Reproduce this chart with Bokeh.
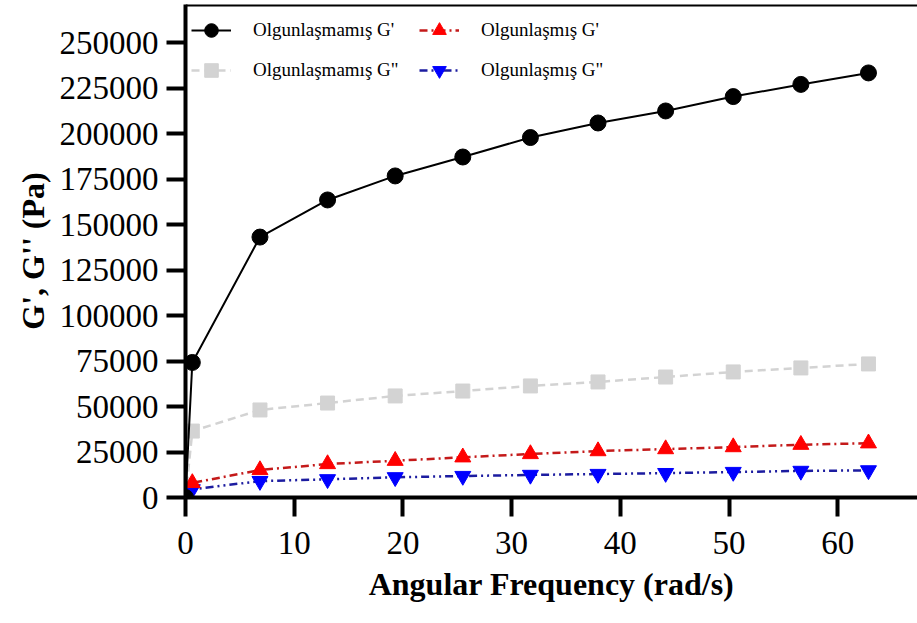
from bokeh.plotting import figure
from bokeh.models import (Range1d, FixedTicker, BasicTickFormatter, Legend, LegendItem, Span)
from bokeh.embed import file_html
from bokeh.resources import INLINE

# Angular frequency (rad/s)
freq = [0, 0.628, 6.85, 13.07, 19.29, 25.51, 31.73, 37.95, 44.17, 50.39, 56.61, 62.83]

# Storage (G') and loss (G'') moduli, Pa
immature_g1 = [0, 74200, 143100, 163500, 176700, 187100, 197800, 205800, 212400, 220300, 227000, 233300]
immature_g2 = [0, 36500, 48100, 51900, 55800, 58500, 61300, 63500, 66200, 69000, 71200, 73400]
mature_g1 = [0, 8000, 15100, 18400, 20200, 22100, 23900, 25500, 26600, 27700, 29000, 29800]
mature_g2 = [0, 4500, 9000, 10000, 11100, 11800, 12400, 12900, 13400, 14000, 14600, 14900]

labels = ["Olgunlaşmamış G'", "Olgunlaşmış G'", 'Olgunlaşmamış G"', 'Olgunlaşmış G"']

x_ticks = [0, 10, 20, 30, 40, 50, 60]
y_ticks = [0, 25000, 50000, 75000, 100000, 125000, 150000, 175000, 200000, 225000, 250000]

FONT = "Liberation Serif"
X_END = 67.34
Y_END = 270900

p = figure(width=917, height=623, output_backend="svg", toolbar_location=None,
           x_range=Range1d(0, X_END), y_range=Range1d(0, Y_END),
           min_border_left=185, min_border_right=0, min_border_top=4, min_border_bottom=126)
p.outline_line_color = None
p.xgrid.visible = False
p.ygrid.visible = False
p.background_fill_color = "white"
p.border_fill_color = "white"

for ax in (p.xaxis[0], p.yaxis[0]):
    ax.axis_line_width = 4
    ax.axis_line_color = "black"
    ax.major_tick_line_width = 4
    ax.major_tick_line_color = "black"
    ax.major_tick_out = 19
    ax.major_tick_in = 0
    ax.minor_tick_line_color = None
    ax.major_label_text_font = FONT
    ax.major_label_text_font_size = "33px"
    ax.major_label_text_color = "black"
    ax.axis_label_text_font = FONT
    ax.axis_label_text_font_size = "32px"
    ax.axis_label_text_font_style = "bold"
    ax.axis_label_text_color = "black"

p.xaxis.ticker = FixedTicker(ticks=x_ticks)
p.yaxis.ticker = FixedTicker(ticks=y_ticks)
p.yaxis.formatter = BasicTickFormatter(use_scientific=False)
p.xaxis.axis_label = "Angular Frequency (rad/s)"
p.yaxis.axis_label = "G', G'' (Pa)"
p.xaxis.major_label_standoff = 15
p.yaxis.major_label_standoff = 8
p.xaxis.axis_label_standoff = 9
p.yaxis.axis_label_standoff = 6

# top border of the frame
p.add_layout(Span(location=Y_END, dimension="width", line_color="black", line_width=4))

# series, drawn back to front
gray_l = p.line(freq, immature_g2, line_color="#d3d3d3", line_width=2.5, line_dash="8 5")
gray_s = p.scatter(freq, immature_g2, marker="square", size=14, fill_color="#d3d3d3", line_color="#d3d3d3")

blue_l = p.line(freq, mature_g2, line_color="#1c1ca0", line_width=2.5, line_dash="8 4 2 4 2 4")
blue_s = p.scatter(freq, mature_g2, marker="inverted_triangle", size=16, fill_color="#0000ff", line_color="#0000ff")

red_l = p.line(freq, mature_g1, line_color="#c41a1a", line_width=2.5, line_dash="8 4 2 4")
red_s = p.scatter(freq, mature_g1, marker="triangle", size=16, fill_color="#ff0000", line_color="#ff0000")

black_l = p.line(freq, immature_g1, line_color="black", line_width=2)
black_s = p.scatter(freq, immature_g1, marker="circle", size=16, fill_color="black", line_color="black")

# two-column legend, filled column by column
legend = Legend(items=[
    LegendItem(label=labels[0], renderers=[black_l, black_s]),
    LegendItem(label=labels[2], renderers=[gray_l, gray_s]),
    LegendItem(label=labels[1], renderers=[red_l, red_s]),
    LegendItem(label=labels[3], renderers=[blue_l, blue_s]),
], ncols=2, location="top_left")
legend.margin = 6
legend.padding = 7
legend.spacing = 0
legend.glyph_width = 40
legend.glyph_height = 34
legend.label_height = 40
legend.label_width = 166
legend.label_standoff = 22
legend.label_text_font = FONT
legend.label_text_font_size = "19px"
legend.label_text_color = "black"
legend.border_line_color = None
legend.background_fill_alpha = 0
p.add_layout(legend)

open("out.html", "w").write(file_html(p, INLINE))
